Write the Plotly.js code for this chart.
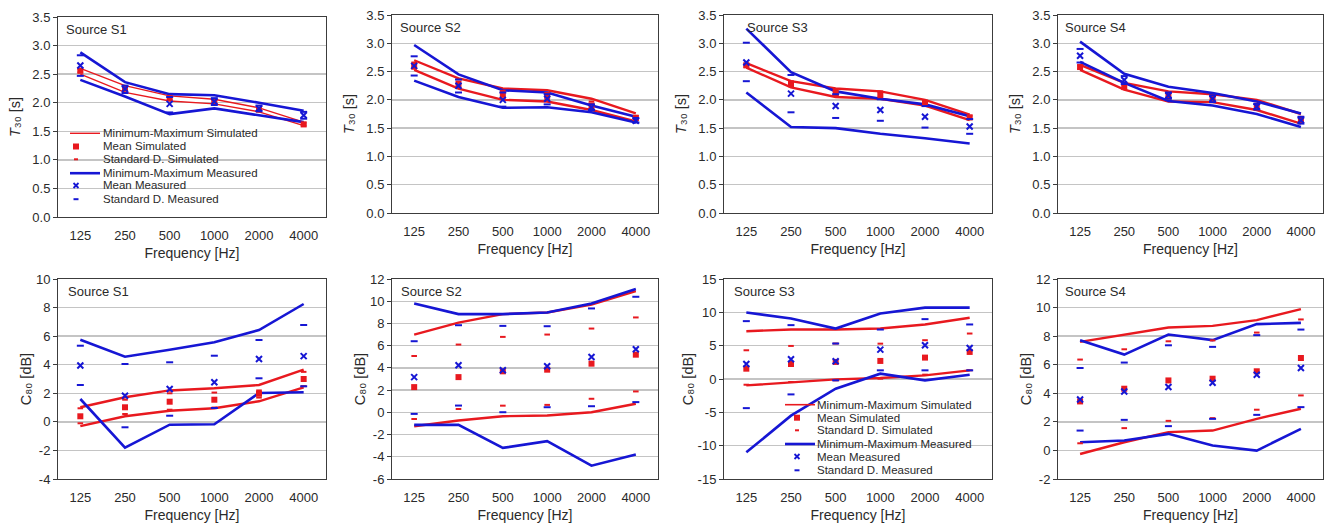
<!DOCTYPE html>
<html>
<head>
<meta charset="utf-8">
<script src="https://cdn.plot.ly/plotly-3.0.1.min.js"></script>
<style>html,body{margin:0;padding:0;background:#fff;}#chart{width:1328px;height:525px;}</style>
</head>
<body>
<div id="chart"></div>
<script>
// ---------- categories & labels ----------
const freqLabels = ['125', '250', '500', '1000', '2000', '4000'];
const sourceNames = ['Source S1', 'Source S2', 'Source S3', 'Source S4'];
const legendLabels = ['Minimum-Maximum Simulated', 'Mean Simulated', 'Standard D. Simulated',
                      'Minimum-Maximum Measured', 'Mean Measured', 'Standard D. Measured'];
const yTitleT30 = '<i>T</i>\u2083\u2080 [s]';
const yTitleC80 = 'C\u2088\u2080 [dB]';
const xTitle = 'Frequency [Hz]';
const t30Ticks = [0, 0.5, 1, 1.5, 2, 2.5, 3, 3.5];
const c80TicksS1 = [-4, -2, 0, 2, 4, 6, 8, 10];
const c80TicksS2 = [-6, -4, -2, 0, 2, 4, 6, 8, 10, 12];
const c80TicksS3 = [-15, -10, -5, 0, 5, 10, 15];
const c80TicksS4 = [-2, 0, 2, 4, 6, 8, 10, 12];

// ---------- T30 [s] ----------
const t30S1SimMax  = [2.60, 2.30, 2.12, 2.06, 1.91, 1.66];
const t30S1SimMin  = [2.50, 2.18, 2.03, 1.98, 1.84, 1.60];
const t30S1SimMean = [2.56, 2.25, 2.08, 2.02, 1.88, 1.62];
const t30S1SimSdHi = [2.59, 2.28, 2.11, 2.04, 1.90, 1.65];
const t30S1SimSdLo = [2.53, 2.21, 2.05, 1.99, 1.85, 1.60];
const t30S1MeaMax  = [2.88, 2.36, 2.15, 2.13, 2.00, 1.86];
const t30S1MeaMin  = [2.40, 2.11, 1.80, 1.90, 1.78, 1.66];
const t30S1MeaMean = [2.65, 2.24, 1.98, 2.02, 1.90, 1.78];
const t30S1MeaSdHi = [2.83, 2.30, 2.10, 2.08, 1.95, 1.84];
const t30S1MeaSdLo = [2.47, 2.17, 1.83, 1.96, 1.85, 1.72];

const t30S2SimMax  = [2.70, 2.38, 2.20, 2.17, 2.02, 1.76];
const t30S2SimMin  = [2.53, 2.20, 2.00, 1.97, 1.82, 1.62];
const t30S2SimMean = [2.60, 2.28, 2.10, 2.07, 1.90, 1.68];
const t30S2SimSdHi = [2.66, 2.36, 2.16, 2.12, 1.97, 1.72];
const t30S2SimSdLo = [2.55, 2.21, 2.03, 2.00, 1.84, 1.64];
const t30S2MeaMax  = [2.97, 2.45, 2.17, 2.13, 1.90, 1.70];
const t30S2MeaMin  = [2.34, 2.05, 1.86, 1.87, 1.78, 1.60];
const t30S2MeaMean = [2.60, 2.25, 2.00, 2.02, 1.87, 1.63];
const t30S2MeaSdHi = [2.77, 2.36, 2.13, 2.10, 1.92, 1.68];
const t30S2MeaSdLo = [2.43, 2.13, 1.88, 1.92, 1.82, 1.60];

const t30S3SimMax  = [2.65, 2.33, 2.20, 2.15, 2.00, 1.74];
const t30S3SimMin  = [2.57, 2.22, 2.05, 2.02, 1.90, 1.64];
const t30S3SimMean = [2.61, 2.28, 2.12, 2.10, 1.95, 1.69];
const t30S3SimSdHi = [2.64, 2.33, 2.18, 2.15, 1.98, 1.72];
const t30S3SimSdLo = [2.58, 2.24, 2.07, 2.04, 1.91, 1.66];
const t30S3MeaMax  = [3.26, 2.49, 2.15, 2.02, 1.92, 1.71];
const t30S3MeaMin  = [2.13, 1.52, 1.50, 1.40, 1.32, 1.23];
const t30S3MeaMean = [2.66, 2.11, 1.89, 1.82, 1.70, 1.53];
const t30S3MeaSdHi = [3.01, 2.44, 2.10, 2.01, 1.89, 1.66];
const t30S3MeaSdLo = [2.33, 1.78, 1.68, 1.63, 1.51, 1.40];

const t30S4SimMax  = [2.62, 2.30, 2.15, 2.10, 2.00, 1.75];
const t30S4SimMin  = [2.53, 2.18, 1.97, 1.96, 1.82, 1.58];
const t30S4SimMean = [2.58, 2.23, 2.07, 2.03, 1.88, 1.65];
const t30S4SimSdHi = [2.61, 2.27, 2.12, 2.07, 1.93, 1.70];
const t30S4SimSdLo = [2.55, 2.19, 2.02, 1.99, 1.83, 1.60];
const t30S4MeaMax  = [3.03, 2.46, 2.23, 2.12, 1.97, 1.76];
const t30S4MeaMin  = [2.67, 2.30, 1.98, 1.90, 1.75, 1.52];
const t30S4MeaMean = [2.78, 2.35, 2.08, 2.02, 1.88, 1.64];
const t30S4MeaSdHi = [2.90, 2.42, 2.13, 2.08, 1.93, 1.70];
const t30S4MeaSdLo = [2.66, 2.28, 2.02, 1.96, 1.83, 1.58];

// ---------- C80 [dB] ----------
const c80S1SimMax  = [1.02, 1.72, 2.20, 2.35, 2.58, 3.65];
const c80S1SimMin  = [-0.30, 0.39, 0.78, 0.95, 1.44, 2.42];
const c80S1SimMean = [0.39, 1.02, 1.41, 1.55, 1.97, 3.00];
const c80S1SimSdHi = [0.95, 1.55, 2.00, 2.05, 2.20, 3.50];
const c80S1SimSdLo = [-0.10, 0.55, 0.85, 1.00, 1.70, 2.50];
const c80S1MeaMax  = [5.75, 4.56, 5.05, 5.57, 6.43, 8.25];
const c80S1MeaMin  = [1.60, -1.80, -0.20, -0.17, 2.02, 2.07];
const c80S1MeaMean = [3.95, 1.83, 2.30, 2.77, 4.40, 4.60];
const c80S1MeaSdHi = [5.33, 4.05, 4.17, 4.63, 5.73, 6.78];
const c80S1MeaSdLo = [2.58, -0.38, 0.43, 0.97, 3.05, 2.49];

const c80S2SimMax  = [7.00, 8.08, 8.84, 8.99, 9.70, 10.90];
const c80S2SimMin  = [-1.25, -0.74, -0.35, -0.29, 0.01, 0.77];
const c80S2SimMean = [2.27, 3.17, 3.69, 3.84, 4.38, 5.19];
const c80S2SimSdHi = [5.07, 6.10, 6.79, 7.00, 7.54, 8.54];
const c80S2SimSdLo = [-0.60, 0.30, 0.60, 0.67, 1.22, 1.88];
const c80S2MeaMax  = [9.80, 8.84, 8.84, 8.99, 9.80, 11.10];
const c80S2MeaMin  = [-1.13, -1.13, -3.20, -2.60, -4.80, -3.80];
const c80S2MeaMean = [3.17, 4.23, 3.78, 4.14, 4.98, 5.67];
const c80S2MeaSdHi = [6.40, 7.84, 7.78, 7.75, 9.35, 10.40];
const c80S2MeaSdLo = [-0.14, 0.61, 0.01, 0.46, 0.55, 0.92];

const c80S3SimMax  = [7.17, 7.42, 7.42, 7.57, 8.18, 9.18];
const c80S3SimMin  = [-0.96, -0.45, -0.05, 0.15, 0.55, 1.30];
const c80S3SimMean = [1.55, 2.25, 2.56, 2.71, 3.21, 4.06];
const c80S3SimSdHi = [4.31, 4.96, 5.32, 5.30, 5.82, 6.82];
const c80S3SimSdLo = [-0.86, -0.45, -0.20, 0.05, 0.65, 1.30];
const c80S3MeaMax  = [9.98, 9.08, 7.57, 9.83, 10.70, 10.70];
const c80S3MeaMin  = [-11.00, -5.50, -1.46, 0.80, -0.20, 0.65];
const c80S3MeaMean = [2.26, 2.96, 2.66, 4.41, 5.06, 4.66];
const c80S3MeaSdHi = [8.68, 8.08, 5.32, 7.42, 8.98, 8.18];
const c80S3MeaSdLo = [-4.37, -2.31, -0.20, 1.30, 1.30, 1.30];

const c80S4SimMax  = [7.60, 8.11, 8.60, 8.72, 9.12, 9.89];
const c80S4SimMin  = [-0.25, 0.57, 1.28, 1.39, 2.21, 2.92];
const c80S4SimMean = [3.43, 4.32, 4.90, 5.02, 5.54, 6.47];
const c80S4SimSdHi = [6.36, 7.08, 7.64, 7.70, 8.25, 9.17];
const c80S4SimSdLo = [0.50, 1.56, 2.07, 2.26, 2.85, 3.85];
const c80S4MeaMax  = [7.72, 6.71, 8.11, 7.72, 8.84, 8.93];
const c80S4MeaMin  = [0.57, 0.69, 1.16, 0.34, -0.01, 1.51];
const c80S4MeaMean = [3.57, 4.13, 4.44, 4.74, 5.30, 5.77];
const c80S4MeaSdHi = [5.77, 6.15, 7.36, 7.25, 8.07, 8.46];
const c80S4MeaSdLo = [1.39, 2.14, 1.70, 2.21, 2.49, 3.03];

// ---------- assemble ----------
const RED = '#e8191f', BLUE = '#1616d4';
const W = 1328, H = 525;
const px = v => v / W, py = v => 1 - v / H;

const panels = [
  {name: sourceNames[0], ticks: t30Ticks, fmt: 1, simMax: t30S1SimMax, simMin: t30S1SimMin, simMean: t30S1SimMean, simHi: t30S1SimSdHi, simLo: t30S1SimSdLo, meaMax: t30S1MeaMax, meaMin: t30S1MeaMin, meaMean: t30S1MeaMean, meaHi: t30S1MeaSdHi, meaLo: t30S1MeaSdLo},
  {name: sourceNames[1], ticks: t30Ticks, fmt: 1, simMax: t30S2SimMax, simMin: t30S2SimMin, simMean: t30S2SimMean, simHi: t30S2SimSdHi, simLo: t30S2SimSdLo, meaMax: t30S2MeaMax, meaMin: t30S2MeaMin, meaMean: t30S2MeaMean, meaHi: t30S2MeaSdHi, meaLo: t30S2MeaSdLo},
  {name: sourceNames[2], ticks: t30Ticks, fmt: 1, simMax: t30S3SimMax, simMin: t30S3SimMin, simMean: t30S3SimMean, simHi: t30S3SimSdHi, simLo: t30S3SimSdLo, meaMax: t30S3MeaMax, meaMin: t30S3MeaMin, meaMean: t30S3MeaMean, meaHi: t30S3MeaSdHi, meaLo: t30S3MeaSdLo},
  {name: sourceNames[3], ticks: t30Ticks, fmt: 1, simMax: t30S4SimMax, simMin: t30S4SimMin, simMean: t30S4SimMean, simHi: t30S4SimSdHi, simLo: t30S4SimSdLo, meaMax: t30S4MeaMax, meaMin: t30S4MeaMin, meaMean: t30S4MeaMean, meaHi: t30S4MeaSdHi, meaLo: t30S4MeaSdLo},
  {name: sourceNames[0], ticks: c80TicksS1, fmt: 0, simMax: c80S1SimMax, simMin: c80S1SimMin, simMean: c80S1SimMean, simHi: c80S1SimSdHi, simLo: c80S1SimSdLo, meaMax: c80S1MeaMax, meaMin: c80S1MeaMin, meaMean: c80S1MeaMean, meaHi: c80S1MeaSdHi, meaLo: c80S1MeaSdLo},
  {name: sourceNames[1], ticks: c80TicksS2, fmt: 0, simMax: c80S2SimMax, simMin: c80S2SimMin, simMean: c80S2SimMean, simHi: c80S2SimSdHi, simLo: c80S2SimSdLo, meaMax: c80S2MeaMax, meaMin: c80S2MeaMin, meaMean: c80S2MeaMean, meaHi: c80S2MeaSdHi, meaLo: c80S2MeaSdLo},
  {name: sourceNames[2], ticks: c80TicksS3, fmt: 0, simMax: c80S3SimMax, simMin: c80S3SimMin, simMean: c80S3SimMean, simHi: c80S3SimSdHi, simLo: c80S3SimSdLo, meaMax: c80S3MeaMax, meaMin: c80S3MeaMin, meaMean: c80S3MeaMean, meaHi: c80S3MeaSdHi, meaLo: c80S3MeaSdLo},
  {name: sourceNames[3], ticks: c80TicksS4, fmt: 0, simMax: c80S4SimMax, simMin: c80S4SimMin, simMean: c80S4SimMean, simHi: c80S4SimSdHi, simLo: c80S4SimSdLo, meaMax: c80S4MeaMax, meaMin: c80S4MeaMin, meaMean: c80S4MeaMean, meaHi: c80S4MeaSdHi, meaLo: c80S4MeaSdLo}
];

// layout geometry (pixels)
const colX = [[58, 326], [392, 658], [724, 992], [1058, 1323]];
const rowY = [[[17, 217], [15, 213], [15, 213], [15, 213]], [[279, 479], [279, 479], [279, 479], [279, 479]]];
const labelShift = [6, 6, 21, 5, 8, 7, 8, 5];
const yStandoff = [8, 0];

const FONT = 'Liberation Sans, Arial, sans-serif';
const TXT = '#2a2a2a';

const traces = [];
const layout = {
  width: W, height: H, margin: {l: 0, r: 0, t: 0, b: 0},
  paper_bgcolor: '#fff', plot_bgcolor: '#fff', showlegend: false,
  font: {family: FONT, size: 13, color: TXT},
  annotations: [], shapes: []
};

panels.forEach((p, i) => {
  const n = i + 1, row = i < 4 ? 0 : 1, col = i % 4;
  const xa = 'x' + (n === 1 ? '' : n), ya = 'y' + (n === 1 ? '' : n);
  const redW = (i === 0) ? 1.4 : 2.4;
  const line = (y, color, w) => ({type: 'scatter', mode: 'lines', x: freqLabels, y: y, xaxis: xa, yaxis: ya,
                                  line: {color: color, width: w}, hoverinfo: 'skip'});
  const mk = (y, color, sym, size, lw) => ({type: 'scatter', mode: 'markers', x: freqLabels, y: y, xaxis: xa, yaxis: ya,
                                  marker: {color: color, symbol: sym, size: size, line: {color: color, width: lw}}, hoverinfo: 'skip'});
  traces.push(line(p.simMax, RED, redW), line(p.simMin, RED, redW));
  traces.push(line(p.meaMax, BLUE, 2.6), line(p.meaMin, BLUE, 2.6));
  traces.push(mk(p.simMean, RED, 'square', 6, 0));
  traces.push(mk(p.simHi, RED, 'line-ew', 4, 2), mk(p.simLo, RED, 'line-ew', 4, 2));
  traces.push(mk(p.meaMean, BLUE, 'x-thin', 6, 2));
  traces.push(mk(p.meaHi, BLUE, 'line-ew', 5, 2), mk(p.meaLo, BLUE, 'line-ew', 5, 2));

  const [x0, x1] = colX[col], [y0, y1] = rowY[row][col];
  const axKey = n === 1 ? '' : n;
  layout['xaxis' + axKey] = {
    domain: [px(x0), px(x1)], anchor: ya, type: 'category', categoryorder: 'array', categoryarray: freqLabels,
    range: [-0.5, 5.5], showgrid: false, zeroline: false, showline: true, mirror: true,
    linecolor: '#3c3c3c', linewidth: 1, ticks: '', ticklabelstandoff: 6,
    tickfont: {family: FONT, size: 13, color: TXT},
    title: {text: xTitle, font: {family: FONT, size: 14, color: TXT}, standoff: 6}
  };
  const t = p.ticks;
  layout['yaxis' + axKey] = {
    domain: [py(y1), py(y0)], anchor: xa, range: [t[0], t[t.length - 1]],
    tickmode: 'array', tickvals: t, ticktext: t.map(v => v.toFixed(p.fmt)),
    showgrid: true, gridcolor: '#c4c4c4', gridwidth: 1.3, zeroline: false,
    showline: true, mirror: true, linecolor: '#3c3c3c', linewidth: 1,
    ticks: 'outside', ticklen: 4, tickcolor: '#3c3c3c', tickfont: {family: FONT, size: 13, color: TXT},
    title: {text: row === 0 ? yTitleT30 : yTitleC80, font: {family: FONT, size: 14.5, color: TXT}, standoff: yStandoff[row]}
  };
  layout.annotations.push({text: p.name, xref: xa + ' domain', yref: ya + ' domain', x: 0, y: 1,
    xanchor: 'left', yanchor: 'top', xshift: labelShift[i], yshift: -3, showarrow: false,
    font: {family: FONT, size: 13, color: TXT}});
});

// ---------- custom compact legends ----------
function addLegend(lineX0, lineX1, markX, textX, rowsY, redW) {
  const S = layout.shapes, A = layout.annotations;
  const hl = (xa, xb, y, c, w) => S.push({type: 'line', xref: 'paper', yref: 'paper', x0: px(xa), x1: px(xb), y0: py(y), y1: py(y), line: {color: c, width: w}});
  hl(lineX0, lineX1, rowsY[0], RED, redW);
  S.push({type: 'rect', xref: 'paper', yref: 'paper', x0: px(markX - 3), x1: px(markX + 3), y0: py(rowsY[1] - 3), y1: py(rowsY[1] + 3), fillcolor: RED, line: {width: 0}});
  hl(markX - 2, markX + 2, rowsY[2], RED, 2);
  hl(lineX0, lineX1, rowsY[3], BLUE, 2.6);
  S.push({type: 'line', xref: 'paper', yref: 'paper', x0: px(markX - 2.5), x1: px(markX + 2.5), y0: py(rowsY[4] - 2.5), y1: py(rowsY[4] + 2.5), line: {color: BLUE, width: 1.8}});
  S.push({type: 'line', xref: 'paper', yref: 'paper', x0: px(markX - 2.5), x1: px(markX + 2.5), y0: py(rowsY[4] + 2.5), y1: py(rowsY[4] - 2.5), line: {color: BLUE, width: 1.8}});
  hl(markX - 2.5, markX + 2.5, rowsY[5], BLUE, 2);
  legendLabels.forEach((lab, k) => A.push({text: lab, xref: 'paper', yref: 'paper', x: px(textX), y: py(rowsY[k]),
    xanchor: 'left', yanchor: 'middle', showarrow: false, font: {family: FONT, size: 11.5, color: TXT}}));
}
addLegend(70, 100, 76, 101, [133.3, 146.5, 159.3, 173.2, 185.5, 199.2], 1.4);
addLegend(785, 815, 797, 815, [404.7, 417.7, 430.3, 444, 456.5, 470.3], 1.6);

Plotly.newPlot('chart', traces, layout, {staticPlot: true, displayModeBar: false});
</script>
</body>
</html>
